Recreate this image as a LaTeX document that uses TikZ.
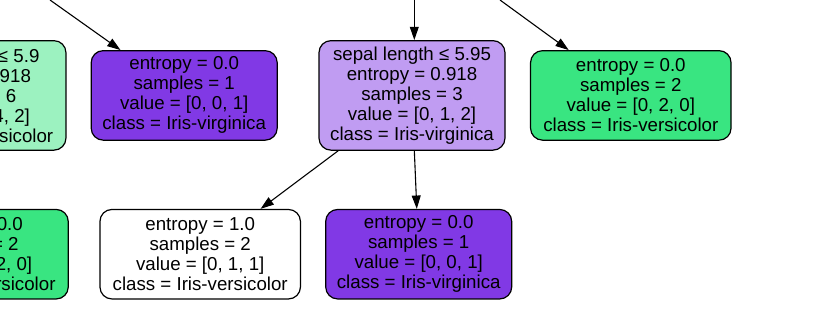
\documentclass[tikz,border=0pt]{standalone}
\usepackage{fontspec}
\setmainfont{Liberation Sans}
\usetikzlibrary{arrows.meta}
\definecolor{virg}{HTML}{8139E5}
\definecolor{virglight}{HTML}{C09CF2}
\definecolor{vers}{HTML}{39E581}
\definecolor{verslight}{HTML}{9CF2C0}
\begin{document}
\begin{tikzpicture}[x=1pt,y=-1pt,
  box/.style={draw=black, line width=1.2pt, rounded corners=12pt, align=center,
    inner sep=0pt, text=black, font=\fontsize{18.7}{20}\selectfont},
  four/.style={minimum height=89.5pt},
  five/.style={minimum height=109.5pt},
  narrow/.style={minimum width=186pt},
  wide/.style={minimum width=200.5pt},
  edge/.style={draw=black, line width=1.1pt, -{Triangle[length=13.3pt,width=8.9pt]}}
  ]
  \useasboundingbox (0,0) rectangle (819,327);
  \clip (0,0) rectangle (819,327);
  % nodes, upper row
  \node[box, five, wide, fill=verslight] (L) at (-34.3,95.4)
    {sepal length ≤ 5.9\\entropy = 0.918\\samples = 6\\value = [0, 4, 2]\\class = Iris-versicolor};
  \node[box, four, narrow, fill=virg] (A) at (184.2,95.4)
    {entropy = 0.0\\samples = 1\\value = [0, 0, 1]\\class = Iris-virginica};
  \node[box, five, narrow, fill=virglight] (B) at (412,95.4)
    {sepal length ≤ 5.95\\entropy = 0.918\\samples = 3\\value = [0, 1, 2]\\class = Iris-virginica};
  \node[box, four, wide, fill=vers] (C) at (630.8,95.4)
    {entropy = 0.0\\samples = 2\\value = [0, 2, 0]\\class = Iris-versicolor};
  % nodes, lower row
  \node[box, four, wide, fill=vers] (D) at (-32,254.2)
    {entropy = 0.0\\samples = 2\\value = [0, 2, 0]\\class = Iris-versicolor};
  \node[box, four, wide, fill=white] (E) at (200.2,254.2)
    {entropy = 1.0\\samples = 2\\value = [0, 1, 1]\\class = Iris-versicolor};
  \node[box, four, narrow, fill=virg] (F) at (418.7,254.2)
    {entropy = 0.0\\samples = 1\\value = [0, 0, 1]\\class = Iris-virginica};
  % free ends of edges coming from parents outside the picture
  \coordinate (pA) at (50,0);
  \coordinate (pB) at (414.3,0);
  \coordinate (pC) at (500,0);
  % edges
  \draw[edge] (pA) -- (A);
  \draw[edge] (pB) -- (pB |- B.north);
  \draw[edge] (pC) -- (C);
  \draw[edge] (B) -- (E);
  \draw[edge] (B) -- (F);
\end{tikzpicture}
\end{document}
